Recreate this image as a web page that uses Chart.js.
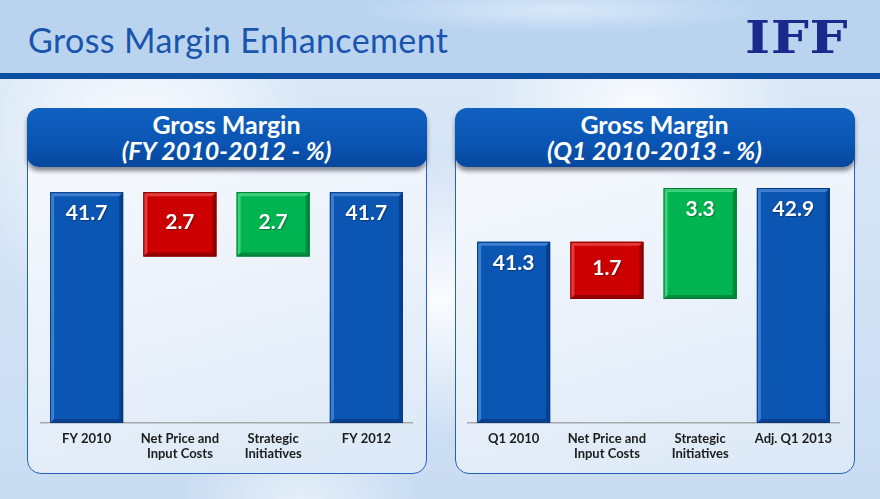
<!DOCTYPE html>
<html>
<head>
<meta charset="utf-8">
<script src="https://cdn.jsdelivr.net/npm/chart.js@4.4.0/dist/chart.umd.min.js"></script>
<style>
    html, body { margin: 0; padding: 0; }
    body {
        width: 880px; height: 499px; position: relative; overflow: hidden;
        font-family: Lato, "Open Sans", sans-serif;
        background:
            radial-gradient(circle at 140px 150px, rgba(255,255,255,0.95) 0, rgba(255,255,255,0) 180px),
            radial-gradient(circle at 640px 120px, rgba(255,255,255,0.9) 0, rgba(255,255,255,0) 160px),
            radial-gradient(circle at 440px 300px, rgba(255,255,255,0.9) 0, rgba(255,255,255,0) 140px),
            radial-gradient(circle at 300px 520px, rgba(255,255,255,0.6) 0, rgba(255,255,255,0) 120px),
            linear-gradient(180deg, #dce9f7 0%, #c9dcf2 100%);
    }
    .topband {
        position: absolute; left: 0; top: 0; width: 880px; height: 73px;
        background:
            radial-gradient(ellipse at 560px 10px, rgba(230,240,252,0.7) 0, rgba(230,240,252,0) 200px),
            #bad4f0;
    }
    .rule { position: absolute; left: 0; top: 73px; width: 880px; height: 6px; background: #0b4ea2; }
    .title {
        position: absolute; left: 28px; top: 19px; font-size: 34px; color: #1a55ad;
        font-family: Lato, sans-serif; letter-spacing: 0.4px;
    }
    .logo {
        position: absolute; left: 745px; top: 13px; width: 82px;
        font-family: "DejaVu Serif", serif; font-weight: bold; font-size: 44px; color: #1a2a8c;
        letter-spacing: 0.5px; transform: scaleX(1.22); transform-origin: left top; line-height: 50px;
    }
    .panel {
        position: absolute; top: 108px; width: 400px; height: 366px; box-sizing: border-box;
        border: 1.5px solid #2362bf; border-radius: 14px;
        background: linear-gradient(165deg, #f8fbfe 0%, #edf3fb 45%, #dbe8f6 100%);
    }
    .panel-head {
        position: absolute; left: -1.5px; top: -1.5px; width: 400px; height: 59px; box-sizing: border-box;
        border-radius: 12px; padding-top: 3px;
        background: linear-gradient(180deg, #1060c0 0%, #0a55b3 60%, #07479c 100%);
        box-shadow: 0 4px 4px rgba(50,50,60,0.55);
        color: #fff; text-align: center; font-weight: bold; font-size: 25px; line-height: 26px;
    }
    .panel-head .sub { font-style: italic; }
    .chart-box { position: absolute; top: 180px; width: 373px; height: 290px; }
</style>
</head>
<body>
<div class="topband"></div>
<div class="rule"></div>
<div class="title">Gross Margin Enhancement</div>
<div class="logo">IFF</div>

<div class="panel" style="left:27px;">
    <div class="panel-head">Gross Margin<br><span class="sub">(FY 2010-2012 - %)</span></div>
</div>
<div class="panel" style="left:455px;">
    <div class="panel-head">Gross Margin<br><span class="sub">(Q1 2010-2013 - %)</span></div>
</div>

<div class="chart-box" style="left:40px;"><canvas id="fyChart"></canvas></div>
<div class="chart-box" style="left:467px;"><canvas id="q1Chart"></canvas></div>

<script>
// left chart: FY 2010 -> FY 2012
const fyCategories = [["FY 2010"], ["Net Price and", "Input Costs"], ["Strategic", "Initiatives"], ["FY 2012"]];
const fyValues = [41.7, -2.7, 2.7, 41.7];
const fyKinds = ["total", "delta", "delta", "total"];
const fyAxisRange = [32.0, 42.21];

// right chart: Q1 2010 -> Adj. Q1 2013
const q1Categories = [["Q1 2010"], ["Net Price and", "Input Costs"], ["Strategic", "Initiatives"], ["Adj. Q1 2013"]];
const q1Values = [41.3, -1.7, 3.3, 42.9];
const q1Kinds = ["total", "delta", "delta", "total"];
const q1AxisRange = [35.91, 43.14];

const palette = {
    total: { fill: "#0b55b3", light: "#3e7fd2", dark: "#07408e", edge: "#063a80" },
    down: { fill: "#cc0000", light: "#e63a3a", dark: "#950000", edge: "#800000" },
    up: { fill: "#00b551", light: "#3ed27c", dark: "#008a3c", edge: "#007a33" }
};

function buildRanges(values, kinds, yMin) {
    let running = 0;
    return values.map((v, i) => {
        if (kinds[i] === "total") {
            running = v;
            return [yMin, v];
        }
        const from = running;
        running = +(running + v).toFixed(2);
        return [Math.min(from, running), Math.max(from, running)];
    });
}

function barStyle(values, kinds) {
    return values.map((v, i) => kinds[i] === "total" ? palette.total : (v < 0 ? palette.down : palette.up));
}

const bevelPlugin = {
    id: "bevel",
    afterDatasetsDraw(chart) {
        const ctx = chart.ctx;
        const styles = chart.options.plugins.bevel.styles;
        chart.getDatasetMeta(0).data.forEach((bar, i) => {
            const p = bar.getProps(["x", "y", "base", "width"], true);
            const l = p.x - p.width / 2, r = p.x + p.width / 2;
            const t = Math.min(p.y, p.base), b = Math.max(p.y, p.base);
            const s = styles[i];
            const d = 4;
            ctx.save();
            const strip = (pts, color) => {
                ctx.beginPath();
                ctx.moveTo(pts[0][0], pts[0][1]);
                pts.slice(1).forEach((pt) => ctx.lineTo(pt[0], pt[1]));
                ctx.closePath();
                ctx.fillStyle = color;
                ctx.fill();
            };
            strip([[l, t], [r, t], [r - d, t + d], [l + d, t + d]], s.light);
            strip([[r, t], [r, b], [r - d, b - d], [r - d, t + d]], s.dark);
            strip([[l, b], [r, b], [r - d, b - d], [l + d, b - d]], s.dark);
            strip([[l, t], [l + d, t + d], [l + d, b - d], [l, b]], s.light);
            ctx.strokeStyle = s.edge;
            ctx.lineWidth = 1;
            ctx.strokeRect(l + 0.5, t + 0.5, r - l - 1, b - t - 1);
            ctx.restore();
        });
    }
};

const valueLabelPlugin = {
    id: "valueLabels",
    afterDatasetsDraw(chart) {
        const ctx = chart.ctx;
        const values = chart.options.plugins.valueLabels.values;
        chart.getDatasetMeta(0).data.forEach((bar, i) => {
            const p = bar.getProps(["x", "y", "base"], true);
            const top = Math.min(p.y, p.base);
            const h = Math.abs(p.base - p.y);
            const cy = h < 70 ? top + h / 2 - 2 : top + 21;
            ctx.save();
            ctx.font = "bold 21px Lato, sans-serif";
            ctx.fillStyle = "#ffffff";
            ctx.textAlign = "center";
            ctx.textBaseline = "middle";
            ctx.shadowColor = "rgba(0,0,0,0.35)";
            ctx.shadowOffsetX = 1;
            ctx.shadowOffsetY = 1;
            ctx.shadowBlur = 1;
            ctx.fillText(Math.abs(values[i]).toFixed(1), p.x, cy);
            ctx.restore();
        });
    }
};

function createWaterfall(id, categories, values, kinds, axisRange) {
    const styles = barStyle(values, kinds);
    new Chart(document.getElementById(id), {
        type: "bar",
        data: {
            labels: categories,
            datasets: [{
                data: buildRanges(values, kinds, axisRange[0]),
                backgroundColor: styles.map((s) => s.fill),
                borderWidth: 0,
                borderSkipped: false,
                categoryPercentage: 1,
                barPercentage: 0.783
            }]
        },
        options: {
            responsive: true,
            maintainAspectRatio: false,
            animation: false,
            layout: { padding: 0 },
            plugins: {
                legend: { display: false },
                tooltip: { enabled: false },
                bevel: { styles },
                valueLabels: { values }
            },
            scales: {
                x: {
                    grid: { display: false, drawTicks: false },
                    border: { display: true, color: "#a7a9ad", width: 1.5 },
                    ticks: {
                        color: "#1c1c1c",
                        padding: 8,
                        maxRotation: 0,
                        autoSkip: false,
                        font: { family: "Lato, sans-serif", size: 13, weight: "bold", lineHeight: 1.15 }
                    },
                    afterFit: (scale) => { scale.height = 47; }
                },
                y: {
                    display: false,
                    min: axisRange[0],
                    max: axisRange[1]
                }
            }
        },
        plugins: [bevelPlugin, valueLabelPlugin]
    });
}

document.addEventListener("DOMContentLoaded", () => {
    createWaterfall("fyChart", fyCategories, fyValues, fyKinds, fyAxisRange);
    createWaterfall("q1Chart", q1Categories, q1Values, q1Kinds, q1AxisRange);
});
</script>
</body>
</html>
